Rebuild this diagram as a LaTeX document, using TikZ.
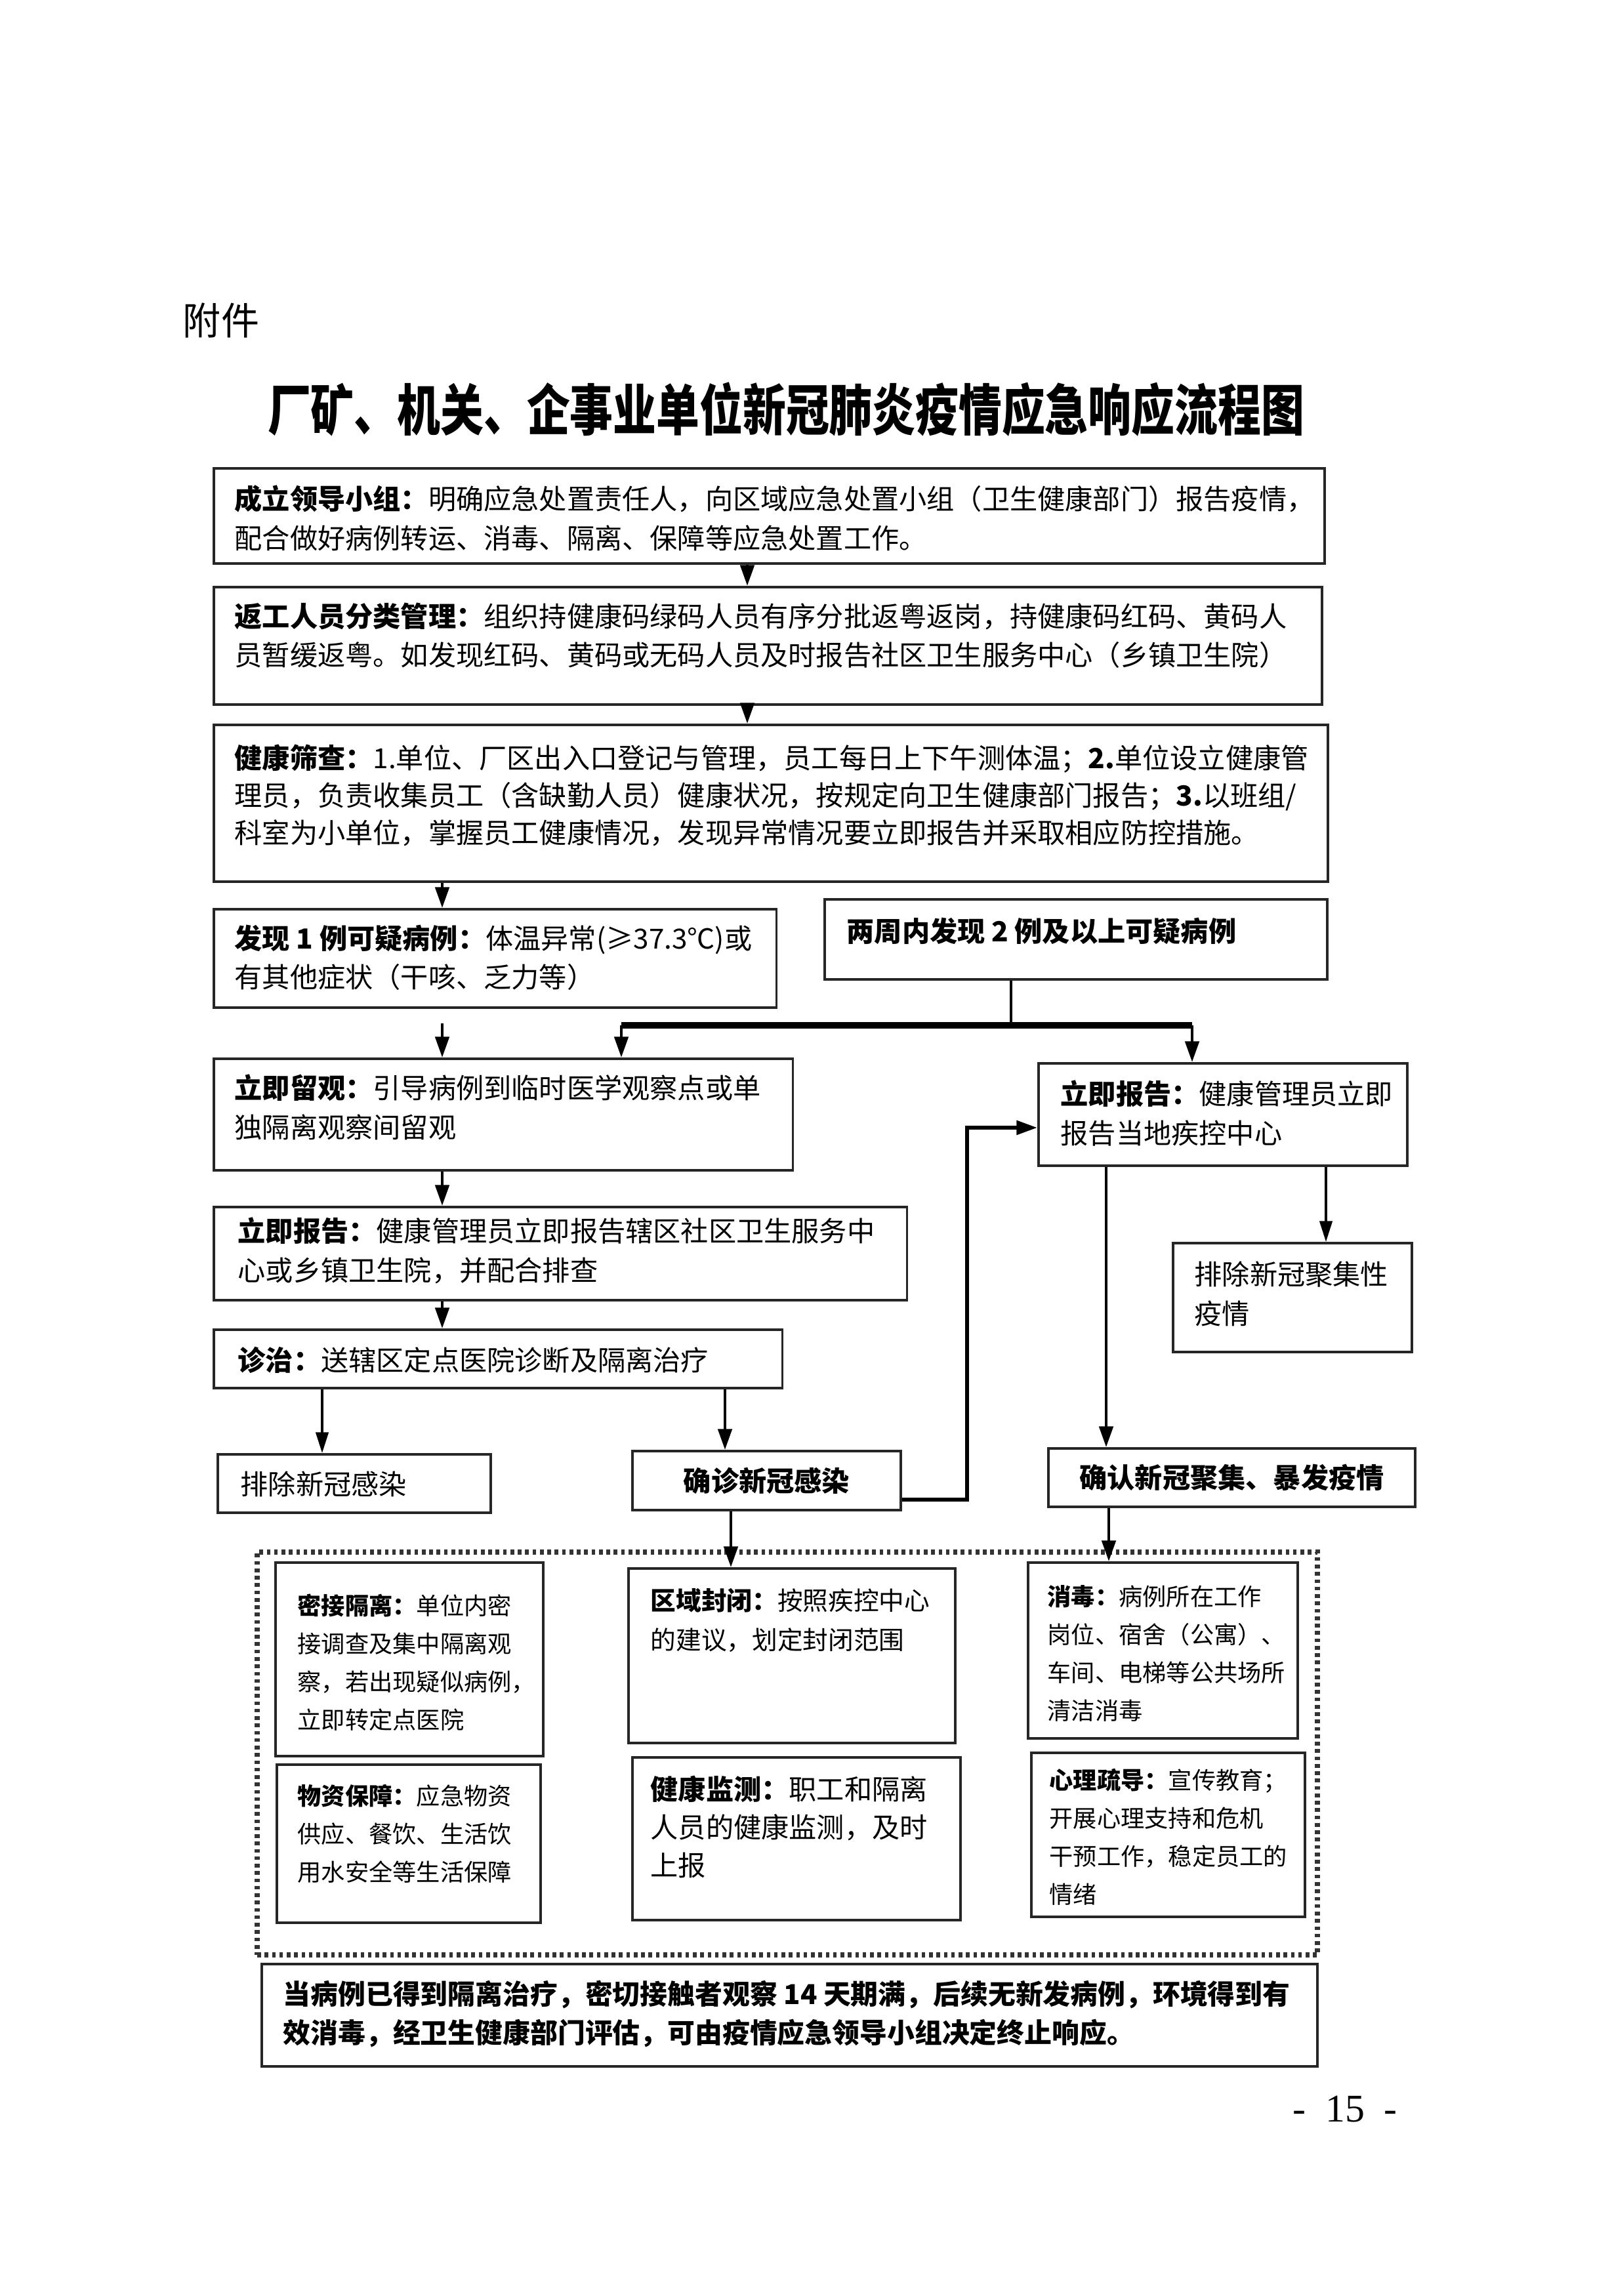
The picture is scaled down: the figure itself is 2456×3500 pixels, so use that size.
\documentclass[tikz,border=0pt]{standalone}
\usepackage{fontspec}
\setmainfont{Noto Sans CJK SC}
\newfontfamily\numfont{Liberation Serif}
\usetikzlibrary{arrows.meta,calc}
\begin{document}
\begin{tikzpicture}[x=0.01cm,y=-0.01cm,
  box/.style={draw=black!85, line width=1.1pt, rectangle, inner sep=0pt, anchor=north west},
  txt/.style={anchor=north west, align=left, inner sep=0pt, font=\fontsize{12}{17}\selectfont},
  stxt/.style={anchor=north west, align=left, inner sep=0pt, font=\fontsize{10.3}{16.5}\selectfont},
  arr/.style={-{Triangle[length=9pt,width=6pt]}, line width=1.3pt},
  thinarr/.style={-{Triangle[length=9pt,width=5.5pt]}, line width=0.9pt},
  dotbox/.style={draw=black!80, line width=2.3pt, dash pattern=on 1.6pt off 1.6pt, rectangle, inner sep=0pt, anchor=north west},
]
\useasboundingbox (0,0) rectangle (2456,3500);
\fill[white] (0,0) rectangle (2456,3500);

% header
\node[font=\fontsize{16.5}{20}\selectfont, inner sep=0pt] (att) at (337,488) {附件};
\node[font=\fontsize{24}{28}\selectfont\bfseries, inner sep=0pt] (title) at (1198,624)
  {\scalebox{0.78}[1]{厂矿、机关、企事业单位新冠肺炎疫情应急响应流程图}};

% boxes
\node[box, minimum width=16.92cm, minimum height=1.45cm] (b1) at (324,712) {};
\node[box, minimum width=16.88cm, minimum height=1.79cm] (b2) at (324,893) {};
\node[box, minimum width=16.97cm, minimum height=2.39cm] (b3) at (324,1103) {};
\node[box, minimum width=8.57cm, minimum height=1.50cm] (b4) at (324,1384) {};
\node[box, minimum width=7.66cm, minimum height=1.22cm] (b5) at (1255,1369) {};
\node[box, minimum width=8.82cm, minimum height=1.70cm] (b6) at (324,1612) {};
\node[box, minimum width=5.62cm, minimum height=1.56cm] (b8) at (1581,1619) {};
\node[box, minimum width=10.56cm, minimum height=1.42cm] (b9) at (324,1838) {};
\node[box, minimum width=8.66cm, minimum height=0.89cm] (b10) at (324,2025) {};
\node[box, minimum width=4.16cm, minimum height=0.89cm] (b11) at (330,2215) {};
\node[box, minimum width=4.09cm, minimum height=0.90cm, font=\fontsize{12}{17}\selectfont\bfseries] (b12) at (962,2210) {确诊新冠感染};
\node[box, minimum width=3.64cm, minimum height=1.66cm] (b14) at (1786,1893) {};
\node[box, minimum width=5.59cm, minimum height=0.89cm, font=\fontsize{12}{17}\selectfont\bfseries] (b15) at (1596,2206) {确认新冠聚集、暴发疫情};
\node[dotbox, minimum width=16.15cm, minimum height=6.14cm] (grp) at (388,2362) {};
\node[box, minimum width=4.08cm, minimum height=2.95cm] (c1) at (418,2380) {};
\node[box, minimum width=4.02cm, minimum height=2.41cm] (c2) at (420,2688) {};
\node[box, minimum width=4.98cm, minimum height=2.66cm] (c3) at (956,2389) {};
\node[box, minimum width=5.00cm, minimum height=2.48cm] (c4) at (962,2677) {};
\node[box, minimum width=4.11cm, minimum height=2.68cm] (c5) at (1565,2380) {};
\node[box, minimum width=4.17cm, minimum height=2.50cm] (c6) at (1570,2670) {};
\node[box, minimum width=16.08cm, minimum height=1.56cm] (fin) at (397,2992) {};

% texts
\node[txt] (t1) at (357,739) {\textbf{成立领导小组：}明确应急处置责任人，向区域应急处置小组（卫生健康部门）报告疫情，\\配合做好病例转运、消毒、隔离、保障等应急处置工作。};
\node[txt] (t2) at (357,918) {\textbf{返工人员分类管理：}组织持健康码绿码人员有序分批返粤返岗，持健康码红码、黄码人\\员暂缓返粤。如发现红码、黄码或无码人员及时报告社区卫生服务中心（乡镇卫生院）};
\node[txt, font=\fontsize{12}{16.3}\selectfont] (t3) at (357,1134) {\textbf{健康筛查：}1.单位、厂区出入口登记与管理，员工每日上下午测体温；\textbf{2.}单位设立健康管\\理员，负责收集员工（含缺勤人员）健康状况，按规定向卫生健康部门报告；\textbf{3.}以班组/\\科室为小单位，掌握员工健康情况，发现异常情况要立即报告并采取相应防控措施。};
\node[txt] (t4) at (357,1409) {\textbf{发现 1 例可疑病例：}体温异常(≥37.3℃)或\\有其他症状（干咳、乏力等）};
\node[txt] (t5) at (1290,1398) {\textbf{两周内发现 2 例及以上可疑病例}};
\node[txt] (t6) at (357,1637) {\textbf{立即留观：}引导病例到临时医学观察点或单\\独隔离观察间留观};
\node[txt] (t8) at (1616,1646) {\textbf{立即报告：}健康管理员立即\\报告当地疾控中心};
\node[txt] (t9) at (362,1855) {\textbf{立即报告：}健康管理员立即报告辖区社区卫生服务中\\心或乡镇卫生院，并配合排查};
\node[txt] (t10) at (362,2052) {\textbf{诊治：}送辖区定点医院诊断及隔离治疗};
\node[txt] (t11) at (366,2242) {排除新冠感染};
\node[txt] (t14) at (1820,1922) {排除新冠聚集性\\疫情};
\node[stxt] (u1) at (453,2429) {\textbf{密接隔离：}单位内密\\接调查及集中隔离观\\察，若出现疑似病例，\\立即转定点医院};
\node[stxt] (u2) at (453,2719) {\textbf{物资保障：}应急物资\\供应、餐饮、生活饮\\用水安全等生活保障};
\node[stxt, font=\fontsize{11}{16.8}\selectfont] (u3) at (991,2421) {\textbf{区域封闭：}按照疾控中心\\的建议，划定封闭范围};
\node[stxt, font=\fontsize{12}{16.5}\selectfont] (u4) at (991,2706) {\textbf{健康监测：}职工和隔离\\人员的健康监测，及时\\上报};
\node[stxt] (u5) at (1596,2416) {\textbf{消毒：}病例所在工作\\岗位、宿舍（公寓）、\\车间、电梯等公共场所\\清洁消毒};
\node[stxt] (u6) at (1599,2695) {\textbf{心理疏导：}宣传教育；\\开展心理支持和危机\\干预工作，稳定员工的\\情绪};
\node[txt, font=\fontsize{11.9}{17}\selectfont\bfseries] (tf) at (431,3018) {当病例已得到隔离治疗，密切接触者观察 14 天期满，后续无新发病例，环境得到有\\效消毒，经卫生健康部门评估，可由疫情应急领导小组决定终止响应。};

\node[font=\fontsize{17}{20}\selectfont\numfont, inner sep=0pt] (pg) at (2050,3215) {-\hspace{0.5em}15\hspace{0.5em}-};

% column coordinates
\coordinate (xa) at (1139,0);
\coordinate (xb) at (674,0);
\coordinate (xc) at (1541,0);
\coordinate (xd) at (947,0);
\coordinate (xe) at (1817,0);
\coordinate (yb) at (0,1563);
\coordinate (xf) at (1474,0);
\coordinate (yf) at (0,1719);
\coordinate (yk) at (0,2286);
\coordinate (xg) at (2021,0);
\coordinate (xh) at (1686,0);
\coordinate (xi) at (491,0);
\coordinate (xj) at (1105,0);
\coordinate (xk) at (1114,0);
\coordinate (xl) at (1690,0);

% connectors
\draw[arr] (xa |- b1.south) -- (xa |- b2.north);
\draw[arr] (xa |- b2.south) -- (xa |- b3.north);
\draw[arr] (xb |- b3.south) -- (xb |- b4.north);
\draw[arr, shorten <=0.22cm] (xb |- b4.south) -- (xb |- b6.north);
\draw[arr] (xb |- b6.south) -- (xb |- b9.north);
\draw[arr] (xb |- b9.south) -- (xb |- b10.north);
\draw[line width=1.3pt] (xc |- b5.south) -- (xc |- yb);
\draw[line width=2.8pt] (xd |- yb) -- (xe |- yb);
\draw[arr] (xd |- yb) -- (xd |- b6.north);
\draw[arr] (xe |- yb) -- (xe |- b8.north);
\draw[thinarr] (xg |- b8.south) -- (xg |- b14.north);
\draw[arr] (xh |- b8.south) -- (xh |- b15.north);
\draw[thinarr] (xi |- b10.south) -- (xi |- b11.north);
\draw[arr] (xj |- b10.south) -- (xj |- b12.north);
\draw[arr, line width=1.6pt] (b12.east |- yk) -| (xf |- yf) -- (b8.west |- yf);
\draw[arr] (xk |- b12.south) -- (xk |- c3.north);
\draw[arr] (xl |- b15.south) -- (xl |- c5.north);
\end{tikzpicture}
\end{document}
